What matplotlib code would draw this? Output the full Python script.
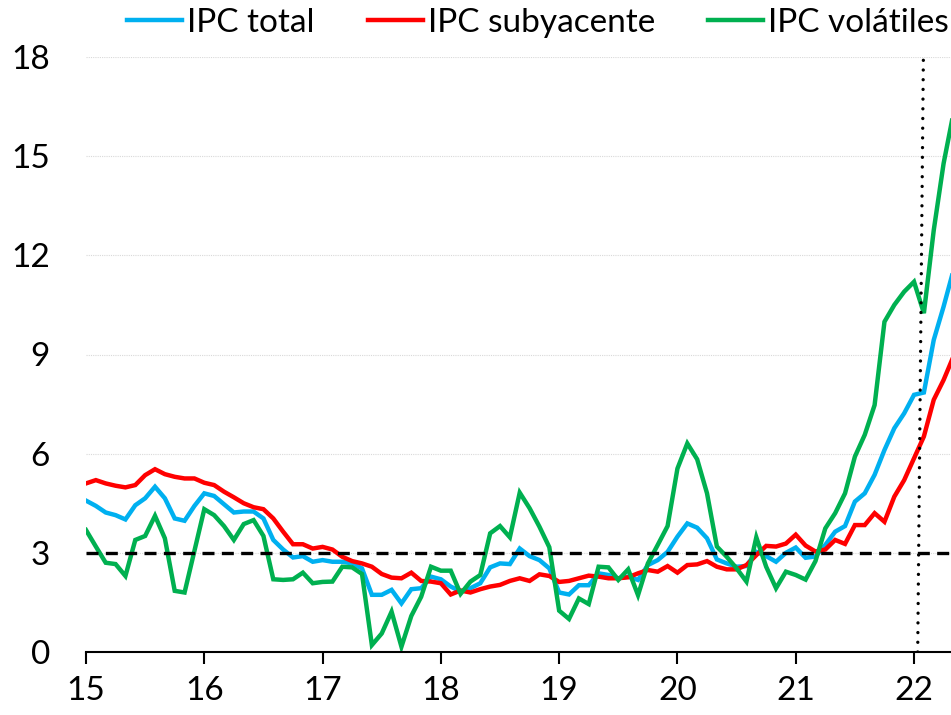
import matplotlib
matplotlib.use("Agg")
import matplotlib.pyplot as plt
import numpy as np

# Monthly data, Jan 2015 .. May 2022
start_year = 15
ipc_total = [4.58, 4.42, 4.22, 4.14, 4.01, 4.44, 4.65, 5.00, 4.65, 4.04, 3.97, 4.42,
             4.80, 4.72, 4.47, 4.22, 4.25, 4.25, 4.04, 3.39, 3.10, 2.86, 2.90, 2.73,
             2.78, 2.73, 2.73, 2.68, 2.53, 1.73, 1.73, 1.88, 1.47, 1.90, 1.93, 2.28,
             2.20, 1.98, 1.83, 1.93, 2.08, 2.56, 2.68, 2.66, 3.13, 2.90, 2.78, 2.53,
             1.80, 1.74, 2.02, 2.02, 2.38, 2.33, 2.23, 2.28, 2.18, 2.63, 2.78, 3.03,
             3.49, 3.89, 3.76, 3.44, 2.80, 2.68, 2.58, 2.60, 3.03, 2.90, 2.73, 3.00,
             3.16, 2.85, 2.89, 3.24, 3.64, 3.81, 4.55, 4.80, 5.36, 6.11, 6.77, 7.22,
             7.78, 7.85, 9.44, 10.45, 11.55]
ipc_subyacente = [5.10, 5.20, 5.10, 5.03, 4.98, 5.05, 5.35, 5.53, 5.38, 5.30, 5.25, 5.25,
                  5.12, 5.05, 4.85, 4.68, 4.50, 4.38, 4.32, 4.04, 3.64, 3.26, 3.26, 3.13,
                  3.18, 3.10, 2.88, 2.75, 2.68, 2.58, 2.36, 2.25, 2.23, 2.40, 2.15, 2.13,
                  2.08, 1.74, 1.86, 1.80, 1.90, 1.98, 2.03, 2.15, 2.23, 2.15, 2.35, 2.30,
                  2.12, 2.15, 2.23, 2.31, 2.28, 2.23, 2.23, 2.26, 2.38, 2.48, 2.43, 2.60,
                  2.40, 2.63, 2.65, 2.75, 2.58, 2.50, 2.50, 2.63, 2.93, 3.21, 3.19, 3.28,
                  3.55, 3.22, 3.04, 3.10, 3.39, 3.27, 3.84, 3.84, 4.20, 3.94, 4.70, 5.20,
                  5.86, 6.52, 7.63, 8.23, 8.94]
ipc_volatiles = [3.69, 3.19, 2.70, 2.66, 2.30, 3.39, 3.51, 4.12, 3.44, 1.85, 1.80, 3.06,
                 4.32, 4.14, 3.81, 3.39, 3.87, 3.99, 3.51, 2.20, 2.18, 2.20, 2.40, 2.08,
                 2.12, 2.13, 2.58, 2.56, 2.36, 0.21, 0.56, 1.22, 0.16, 1.09, 1.67, 2.58,
                 2.46, 2.46, 1.76, 2.13, 2.33, 3.59, 3.81, 3.47, 4.82, 4.35, 3.79, 3.17,
                 1.25, 1.00, 1.62, 1.45, 2.58, 2.56, 2.18, 2.50, 1.72, 2.68, 3.24, 3.81,
                 5.55, 6.31, 5.83, 4.80, 3.19, 2.88, 2.53, 2.13, 3.47, 2.58, 1.93, 2.43,
                 2.33, 2.19, 2.75, 3.74, 4.20, 4.80, 5.91, 6.57, 7.47, 9.99, 10.50, 10.90,
                 11.20, 10.25, 12.76, 14.78, 16.30]
series_labels = ["IPC total", "IPC subyacente", "IPC volátiles"]
series_colors = ["#00B0F0", "#FF0000", "#00B050"]
x_ticks = [15, 16, 17, 18, 19, 20, 21, 22]
y_ticks = [0, 3, 6, 9, 12, 15, 18]
target_level = 3
vline_x = [22.031, 22.079]
vline_y = [0, 18]

plt.rcParams['font.family'] = ['Lato', 'DejaVu Sans']
FS = 24

W, H = 951, 715
fig = plt.figure(figsize=(W / 100, H / 100), dpi=100)
left_px, right_px, bottom_px, top_px = 86, 951, 652, 57
ax = fig.add_axes([left_px / W, (H - bottom_px) / H,
                   (right_px - left_px) / W, (bottom_px - top_px) / H])

n = len(ipc_total)
x = start_year + np.arange(n) / 12.0

for vals, lab, col in zip([ipc_total, ipc_subyacente, ipc_volatiles], series_labels, series_colors):
    ax.plot(x, vals, color=col, lw=3.2, label=lab, solid_joinstyle='miter', zorder=3)

ax.axhline(target_level, color='black', lw=2.4, linestyle=(0, (3.6, 2.2)), zorder=4)
ax.plot(vline_x, vline_y, color='black', lw=2.4, linestyle=(0, (0.01, 2.9)),
        dash_capstyle='round', zorder=4)

ax.set_xlim(15, 15 + (right_px - left_px) / 118.29)
ax.set_ylim(0, 18)
ax.set_xticks(x_ticks)
ax.set_xticklabels([str(t) for t in x_ticks])
ax.set_yticks(y_ticks)
ax.set_yticklabels([str(t) for t in y_ticks])

for s in ['left', 'right', 'top']:
    ax.spines[s].set_visible(False)
ax.spines['bottom'].set_linewidth(1.5)
ax.spines['bottom'].set_zorder(5)

ax.tick_params(axis='x', direction='out', length=8.5, width=1.5, pad=9, labelsize=FS,
               labelcolor='black')
ax.tick_params(axis='y', length=0, pad=26, labelsize=FS, labelcolor='black')

ax.grid(axis='y', color='#D9D9D9', lw=0.8, linestyle=(0, (1, 1)))
ax.set_axisbelow(True)

leg = fig.legend(loc='center', bbox_to_anchor=(538 / W, 1 - 23 / H), ncol=3,
                 frameon=False, fontsize=FS, handlelength=1.65, handletextpad=0.15,
                 columnspacing=1.6, borderpad=0, borderaxespad=0)
for h in leg.get_lines():
    h.set_linewidth(3.2)

fig.savefig("out.png", dpi=100)
